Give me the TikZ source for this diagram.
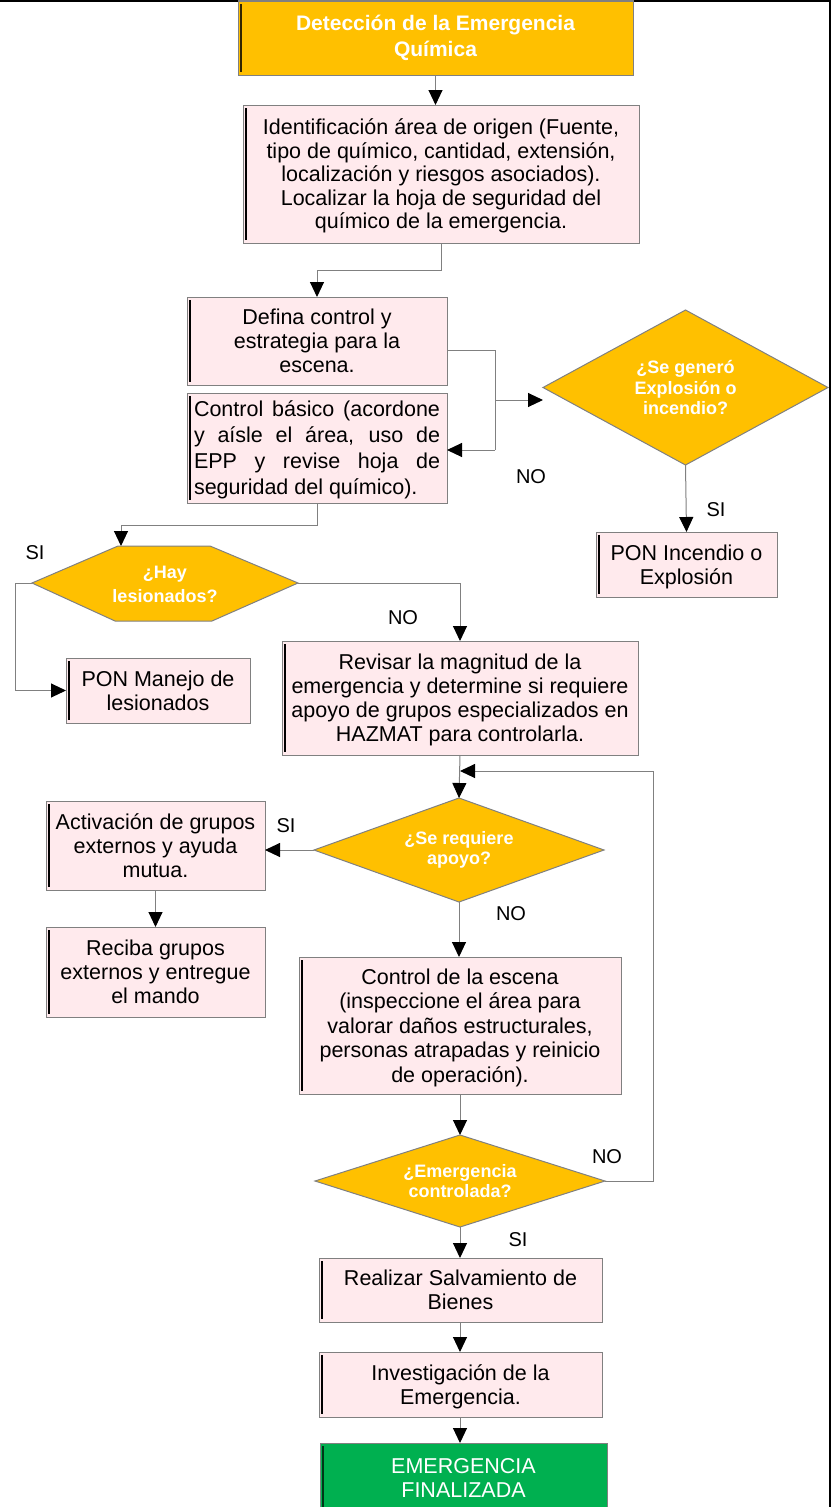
\documentclass[tikz,border=0pt]{standalone}
\usepackage{fontspec}
\setmainfont{Liberation Sans}
\usetikzlibrary{arrows.meta,calc,shapes.geometric}
\definecolor{orng}{RGB}{255,192,0}
\definecolor{pnk}{RGB}{255,234,237}
\definecolor{grn}{RGB}{0,176,80}
\definecolor{lngray}{RGB}{128,128,128}
\newcommand\leftedge[2][black]{\draw[ledge,draw=#1] ($(#2.north west)+(2.5,3)$) -- ($(#2.south west)+(2.5,-3)$);}
\begin{document}
\begin{tikzpicture}[x=1pt,y=-1pt,
  every node/.style={inner sep=0pt, outer sep=0pt},
  box/.style={draw=lngray, line width=1pt, fill=pnk, align=center, font=\fontsize{21.5}{24}\selectfont, text=black, text depth=0pt},
  obox/.style={box, fill=orng, text=white, font=\bfseries\fontsize{21}{26}\selectfont, text depth=},
  gbox/.style={box, fill=grn, text=white},
  dia/.style={diamond, draw=lngray, line width=1pt, fill=orng, text=white, align=center, font=\bfseries\fontsize{18}{20.5}\selectfont},
  conn/.style={draw=lngray, line width=1pt},
  arr/.style={-{Triangle[length=15pt,width=14pt,fill=black,color=black]}},
  lbl/.style={font=\fontsize{20}{24}\selectfont, text=black},
  ledge/.style={line width=2pt}
]
\clip (0,0) rectangle (833,1507);
\fill[white] (0,0) rectangle (833,1507);
% page border
\draw[black, line width=2pt] (0,1) -- (830,1) -- (830,1507);

% boxes
\node[obox, minimum width=395pt, minimum height=74pt] (b1) at (435.5,38) {Detección de la Emergencia\\Química};
\leftedge[black!80!orng]{b1}
\node[box, minimum width=396pt, minimum height=138pt, font=\fontsize{21.5}{23.5}\selectfont] (b2) at (441,174) {Identificación área de origen (Fuente,\\tipo de químico, cantidad, extensión,\\localización y riesgos asociados).\\Localizar la hoja de seguridad del\\químico de la emergencia.};
\leftedge{b2}
\node[box, minimum width=260pt, minimum height=88pt] (b3) at (317,341) {Defina control y\\estrategia para la\\escena.};
\leftedge{b3}
\node[box, minimum width=260pt, minimum height=110pt, align=left, font=\fontsize{21.5}{26}\selectfont] (b4) at (317,448) {\makebox[246pt][s]{Control básico (acordone}\\\makebox[246pt][s]{y aísle el área, uso de}\\\makebox[246pt][s]{EPP y revise hoja de}\\seguridad del químico).};
\leftedge{b4}
\node[dia, shape aspect=1.84, minimum width=285pt, minimum height=155pt] (d1) at (685.5,387.5) {¿Se generó\\Explosión o\\incendio?};
\node[box, minimum width=181pt, minimum height=65pt] (pon1) at (686.5,564.5) {PON Incendio o\\Explosión};
\leftedge{pon1}

% hexagon
\draw[conn, fill=orng] (32,583) -- (118,546) -- (210,546) -- (298,583) -- (212,621) -- (115,621) -- cycle;
\node[align=center, text=white, font=\bfseries\fontsize{18}{24}\selectfont] (hx) at (165,584) {¿Hay\\lesionados?};
\coordinate (hxW) at (32,583);
\coordinate (hxE) at (298,583);
\coordinate (hxN) at (121,546);

\node[box, minimum width=184pt, minimum height=65pt] (pon2) at (158,690.5) {PON Manejo de\\lesionados};
\leftedge{pon2}
\node[box, minimum width=356pt, minimum height=114pt] (b5) at (460,698) {Revisar la magnitud de la\\emergencia y determine si requiere\\apoyo de grupos especializados en\\HAZMAT para controlarla.};
\leftedge{b5}
\node[dia, shape aspect=2.8, minimum width=290pt, minimum height=104pt] (d2) at (459,850) {¿Se requiere\\apoyo?};
\node[box, minimum width=219pt, minimum height=89pt] (act) at (155.5,845.5) {Activación de grupos\\externos y ayuda\\mutua.};
\leftedge{act}
\node[box, minimum width=219pt, minimum height=90pt] (rec) at (155.5,972) {Reciba grupos\\externos y entregue\\el mando};
\leftedge{rec}
\node[box, minimum width=322pt, minimum height=137pt, font=\fontsize{21.5}{24.5}\selectfont] (b6) at (460,1025.5) {Control de la escena\\(inspeccione el área para\\valorar daños estructurales,\\personas atrapadas y reinicio\\de operación).};
\leftedge{b6}
\node[dia, shape aspect=3.15, minimum width=290pt, minimum height=92pt] (d3) at (460,1181) {¿Emergencia\\controlada?};
\node[box, minimum width=283pt, minimum height=64pt] (b7) at (460.5,1290) {Realizar Salvamiento de\\Bienes};
\leftedge{b7}
\node[box, minimum width=283pt, minimum height=65pt] (b8) at (460.5,1384.5) {Investigación de la\\Emergencia.};
\leftedge{b8}
\node[gbox, minimum width=287pt, minimum height=69pt] (b9) at (463.5,1477.5) {EMERGENCIA\\FINALIZADA};
\draw[ledge, draw=black!70!grn] ($(b9.north west)+(2.5,3)$) -- ($(b9.south west)+(2.5,0)$);

% connectors
\draw[conn, arr] (b1.south) -- (b1.south |- b2.north);
\draw[conn, arr] (b2.south) -- ++(0,27) -| (b3.north);
\coordinate (j1) at (495,350);
\coordinate (j2) at (495,450);
\coordinate (j3) at (495,400);
\draw[conn] (b3.east |- j1) -- (j1) -- (j2);
\draw[conn, arr] (j2) -- (b4.east |- j2);
\draw[conn, arr] (j3) -- (543,400);
\draw[conn, arr] (d1.south) -- (pon1.north);
\draw[conn, arr] (b4.south) -- ++(0,22) -| (hxN);
\draw[conn, arr] (hxW) -- (15,583) |- (pon2.west);
\draw[conn, arr] (hxE) -| (b5.north);
\draw[conn, arr] (b5.south) -- (d2.north);
\coordinate (lp) at (653,771);
\draw[conn, arr] (d3.east) -| (lp) -- (b5.south |- lp);
\draw[conn, arr] (d2.west) -- (act.east |- d2.west);
\draw[conn, arr] (act.south) -- (rec.north);
\draw[conn, arr] (d2.south) -- (b6.north -| d2.south);
\draw[conn, arr] (b6.south) -- (d3.north);
\draw[conn, arr] (d3.south) -- (b7.north -| d3.south);
\draw[conn, arr] (b7.south -| d3.south) -- (b8.north -| d3.south);
\draw[conn, arr] (b8.south -| d3.south) -- (b9.north -| d3.south);

% labels
\node[lbl] (l1) at (531,477) {NO};
\node[lbl] (l2) at (716,510) {SI};
\node[lbl] (l3) at (35,553) {SI};
\node[lbl] (l4) at (403,618) {NO};
\node[lbl] (l5) at (286,826) {SI};
\node[lbl] (l6) at (511,914) {NO};
\node[lbl] (l7) at (607,1157) {NO};
\node[lbl] (l8) at (518,1240) {SI};
\end{tikzpicture}
\end{document}
